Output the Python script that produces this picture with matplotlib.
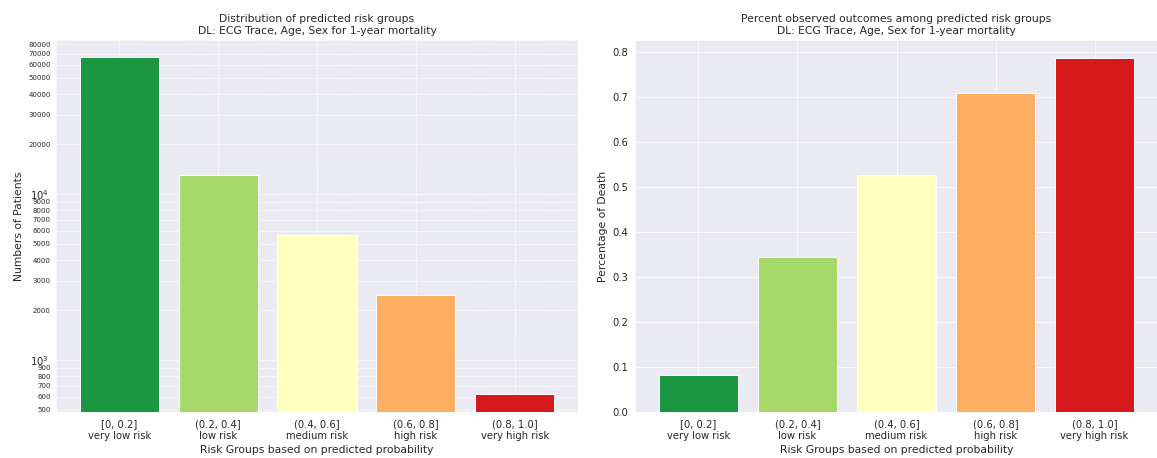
import matplotlib
matplotlib.use('Agg')
import matplotlib.pyplot as plt
import seaborn as sns
from matplotlib.ticker import FuncFormatter

sns.set_style('darkgrid')

groups = ['[0, 0.2]\nvery low risk', '(0.2, 0.4]\nlow risk', '(0.4, 0.6]\nmedium risk',
          '(0.6, 0.8]\nhigh risk', '(0.8, 1.0]\nvery high risk']
patients = [67000, 13000, 5680, 2480, 625]
death_rate = [0.083, 0.345, 0.528, 0.710, 0.788]
colors = ['#1a9641', '#a6d96a', '#ffffbf', '#fdae61', '#d7191c']

TXT = 10.7
TICK = 10

W, H = 1157, 458
fig = plt.figure(figsize=(W / 72, H / 72), dpi=72)
ax1 = fig.add_axes([56 / W, 46 / H, 522 / W, 372 / H])
ax2 = fig.add_axes([635 / W, 46 / H, 523 / W, 372 / H])

x = range(len(groups))

# patient counts per risk group, log scale
ax1.bar(x, patients, color=colors, edgecolor='white', linewidth=1)
ax1.set_yscale('log')
ax1.set_ylim(486, 84700)
ax1.yaxis.set_minor_formatter(FuncFormatter(lambda v, p: f'{v:.0f}'))
ax1.tick_params(axis='y', which='minor', labelsize=7)
ax1.tick_params(axis='y', which='major', labelsize=TICK)
ax1.grid(True, which='both', linestyle='--')
ax1.set_xticks(list(x))
ax1.set_xticklabels(groups, fontsize=TICK)
ax1.set_title('Distribution of predicted risk groups\nDL: ECG Trace, Age, Sex for 1-year mortality',
              fontsize=TXT)
ax1.set_xlabel('Risk Groups based on predicted probability', fontsize=TXT)
ax1.set_ylabel('Numbers of Patients', fontsize=TXT)

# observed death rate per risk group
ax2.bar(x, death_rate, color=colors, edgecolor='white', linewidth=1)
ax2.set_xticks(list(x))
ax2.set_xticklabels(groups, fontsize=TICK)
ax2.tick_params(axis='y', labelsize=TICK)
ax2.set_title('Percent observed outcomes among predicted risk groups\nDL: ECG Trace, Age, Sex for 1-year mortality',
              fontsize=TXT)
ax2.set_xlabel('Risk Groups based on predicted probability', fontsize=TXT)
ax2.set_ylabel('Percentage of Death', fontsize=TXT)

fig.savefig('out.png', dpi=72)
